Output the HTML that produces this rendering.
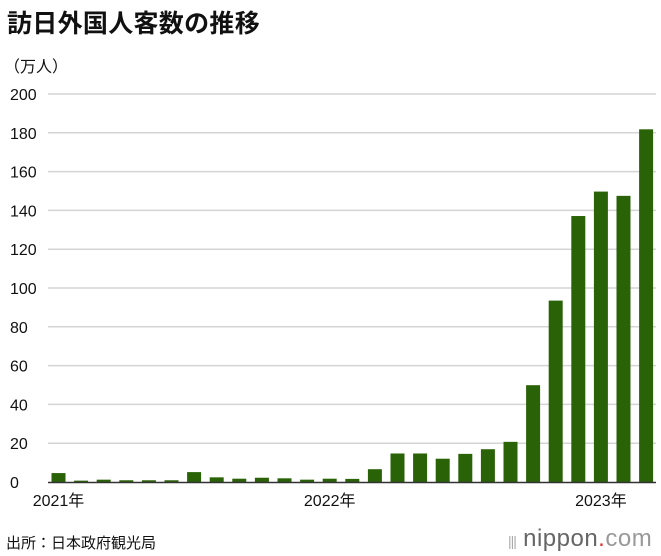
<!DOCTYPE html>
<html><head><meta charset="utf-8"><style>
html,body{margin:0;padding:0;background:#fff;}
body{width:661px;height:556px;position:relative;overflow:hidden;font-family:"Liberation Sans","Noto Sans CJK JP",sans-serif;color:#111;}
.t{position:absolute;white-space:nowrap;}
</style></head><body>
<div class="t" style="left:7px;top:4px;font-size:25px;font-weight:bold;letter-spacing:0.3px;">訪日外国人客数の推移</div>
<div class="t" style="left:4px;top:53px;font-size:16px;">（万人）</div>
<svg id="chart" width="661" height="556" style="position:absolute;left:0;top:0;"></svg>
<div class="t" style="left:6px;top:532px;font-size:15px;">出所：日本政府観光局</div>
<div class="t" style="left:508px;top:525px;font-size:24px;color:#666;letter-spacing:0.5px;"><span style="font-size:14px;color:#aaa;letter-spacing:-1px;">|||</span> nippon<span style="color:#e03030;">.</span><span style="color:#999;">com</span></div>
<script>
const months=["2021-01","2021-02","2021-03","2021-04","2021-05","2021-06","2021-07","2021-08","2021-09","2021-10","2021-11","2021-12","2022-01","2022-02","2022-03","2022-04","2022-05","2022-06","2022-07","2022-08","2022-09","2022-10","2022-11","2022-12","2023-01","2023-02","2023-03"];
const visitors=[4.6,0.7,1.2,0.9,0.9,0.9,5.1,2.4,1.7,2.2,1.9,1.2,1.7,1.6,6.6,14.7,14.7,12.0,14.5,16.9,20.7,49.9,93.5,137.1,149.7,147.5,181.8];
const yTicks=[0,20,40,60,80,100,120,140,160,180,200];
const xLabels=[{i:0,text:"2021年"},{i:12,text:"2022年"},{i:24,text:"2023年"}];
const svg=document.getElementById('chart');
const NS="http://www.w3.org/2000/svg";
const y0=482,yTop=94,yMax=200;
const y=v=>y0-(v/yMax)*(y0-yTop);
const x0=51.5,step=22.6,bw=14;
const x=i=>x0+i*step;
function mk(tag,attrs,txt){const e=document.createElementNS(NS,tag);for(const k in attrs)e.setAttribute(k,attrs[k]);if(txt!==undefined)e.textContent=txt;svg.appendChild(e);return e;}
yTicks.forEach(v=>{
  if(v>0){const g=mk('line',{x1:48,x2:656,y1:y(v),y2:y(v),stroke:'#d4d4d4','stroke-width':1.5});
  
  }
  const t=mk('text',{x:10,y:y(v)+6,'font-size':16,fill:'#111','font-family':'Liberation Sans, sans-serif'},String(v));
  
  
});
visitors.forEach((v,i)=>{
  const r=mk('rect',{x:x(i),y:y(v),width:bw,height:y0-y(v),fill:'#2a6307'});
  
  
});
const base=mk('line',{x1:48,x2:656,y1:y0+0.5,y2:y0+0.5,stroke:'#333','stroke-width':1.5});


xLabels.forEach(l=>{
  const t=mk('text',{x:x(l.i)+bw/2,y:506,'font-size':16,'text-anchor':'middle',fill:'#111','font-family':'Liberation Sans, Noto Sans CJK JP, sans-serif'},l.text);
  
  
});
</script>
</body></html>
